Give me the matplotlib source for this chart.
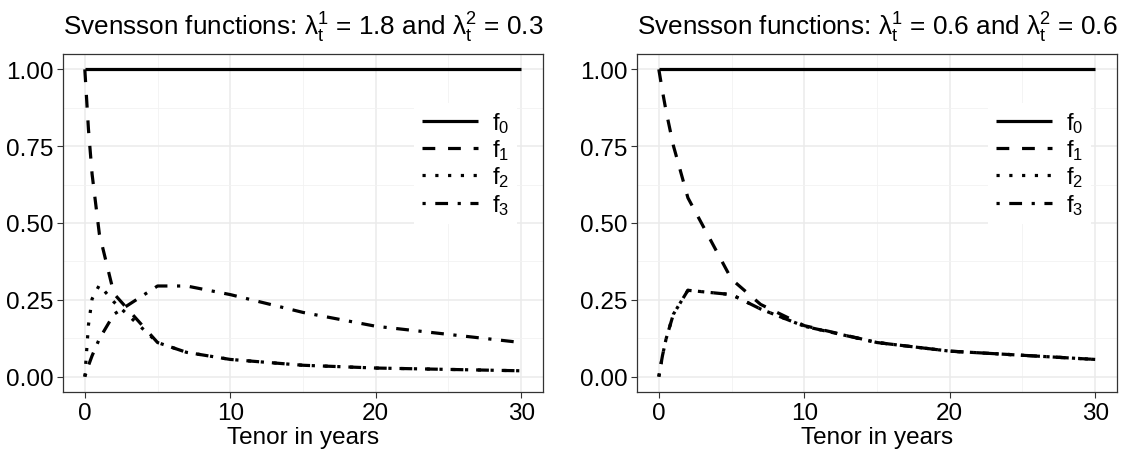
import numpy as np
import matplotlib
matplotlib.use("Agg")
import matplotlib.pyplot as plt
from matplotlib.ticker import MultipleLocator

plt.rcParams['font.family'] = ['Liberation Sans', 'DejaVu Sans']
plt.rcParams['mathtext.fontset'] = 'custom'
plt.rcParams['mathtext.rm'] = 'Liberation Sans'
plt.rcParams['mathtext.it'] = 'Liberation Sans'
plt.rcParams['mathtext.default'] = 'regular'

# tenors (years) at which the loadings are evaluated
tenor = [0, 0.25, 0.5, 1, 2, 5, 7, 10, 15, 20, 30]

# left panel: lambda1 = 1.8, lambda2 = 0.3
left_f0 = [1, 1, 1, 1, 1, 1, 1, 1, 1, 1, 1]
left_f1 = [1.0, 0.805, 0.659, 0.464, 0.270, 0.111, 0.079, 0.056, 0.037, 0.028, 0.019]
left_f2 = [0.0, 0.168, 0.253, 0.298, 0.243, 0.111, 0.079, 0.056, 0.037, 0.028, 0.019]
left_f3 = [0.0, 0.036, 0.068, 0.123, 0.203, 0.295, 0.295, 0.267, 0.209, 0.164, 0.111]

# right panel: lambda1 = 0.6, lambda2 = 0.6
right_f0 = [1, 1, 1, 1, 1, 1, 1, 1, 1, 1, 1]
right_f1 = [1.0, 0.929, 0.864, 0.752, 0.582, 0.317, 0.235, 0.166, 0.111, 0.083, 0.056]
right_f2 = [0.0, 0.068, 0.123, 0.203, 0.281, 0.267, 0.220, 0.164, 0.111, 0.083, 0.056]
right_f3 = [0.0, 0.068, 0.123, 0.203, 0.281, 0.267, 0.220, 0.164, 0.111, 0.083, 0.056]

titles = [r"Svensson functions: $\lambda_t^1$ = 1.8 and $\lambda_t^2$ = 0.3",
          r"Svensson functions: $\lambda_t^1$ = 0.6 and $\lambda_t^2$ = 0.6"]
labels = [r"$f_0$", r"$f_1$", r"$f_2$", r"$f_3$"]

# ggplot-like linetypes: solid, dashed, dotted, dotdash
styles = [None, (4, 4), (1, 3), (1, 3, 4, 3)]

fig = plt.figure(figsize=(11.27, 4.56), dpi=100)
ax_l = fig.add_axes([63 / 1127, 63 / 456, 480 / 1127, 338 / 456])
ax_r = fig.add_axes([637 / 1127, 63 / 456, 480 / 1127, 338 / 456])

panels = [(ax_l, [left_f0, left_f1, left_f2, left_f3]),
          (ax_r, [right_f0, right_f1, right_f2, right_f3])]

for i, (ax, series) in enumerate(panels):
    for ys, dash, lab in zip(series, styles, labels):
        line, = ax.plot(tenor, ys, color='black', lw=2.3, label=lab,
                        solid_capstyle='butt', dash_capstyle='butt')
        if dash is not None:
            line.set_dashes(dash)

    ax.set_xlim(-1.5, 31.5)
    ax.set_ylim(-0.05, 1.05)
    ax.xaxis.set_major_locator(MultipleLocator(10))
    ax.xaxis.set_minor_locator(MultipleLocator(5))
    ax.yaxis.set_major_locator(MultipleLocator(0.25))
    ax.yaxis.set_minor_locator(MultipleLocator(0.125))
    ax.yaxis.set_major_formatter(matplotlib.ticker.FormatStrFormatter('%.2f'))
    ax.grid(which='major', color='#EBEBEB', lw=1.1)
    ax.grid(which='minor', color='#F2F2F2', lw=0.6)
    ax.set_axisbelow(True)
    ax.tick_params(which='major', length=4, width=0.8, color='#333333',
                   labelsize=17.5, labelcolor='black', pad=3)
    ax.tick_params(which='minor', length=0)
    for sp in ax.spines.values():
        sp.set_color('#333333')
        sp.set_linewidth(0.9)

    ax.set_title(titles[i], fontsize=18.8, pad=14)
    ax.set_xlabel("Tenor in years", fontsize=17.5, labelpad=2)

    leg = ax.legend(loc='upper right', bbox_to_anchor=(0.97, 0.89),
                    frameon=True, fancybox=False, edgecolor='none',
                    facecolor='white', framealpha=1, fontsize=17,
                    handlelength=2.4, handletextpad=0.6, labelspacing=0.1,
                    borderpad=0.3)

fig.savefig("out.png", dpi=100)
